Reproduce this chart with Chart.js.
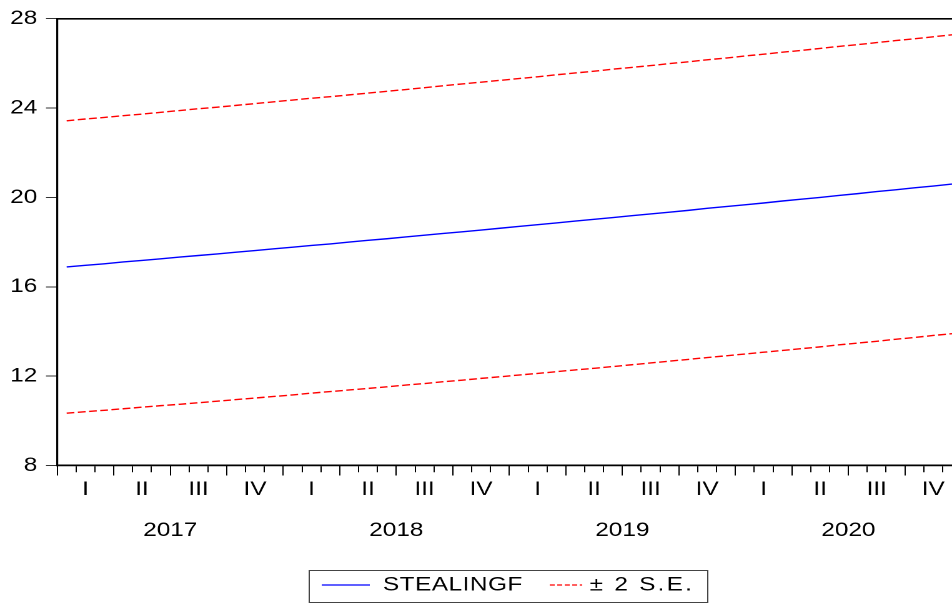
<!DOCTYPE html>
<html>
<head>
<meta charset="utf-8">
<script src="https://cdn.jsdelivr.net/npm/chart.js@4"></script>
<style>
  html, body { margin: 0; padding: 0; background: #fff; overflow: hidden; }
  #wrap { width: 952px; height: 603px; overflow: hidden; position: relative; }
  /* the plot is laid out on a narrower canvas and widened horizontally */
  #c { position: absolute; left: 0; top: 0; transform-origin: 0 0; transform: scaleX(1.24934); }
</style>
</head>
<body>
<div id="wrap"><canvas id="c" width="762" height="603"></canvas></div>
<script>
// Monthly forecast 2017M01 - 2020M12
const years = ['2017', '2018', '2019', '2020'];
const quarterLabels = ['I', 'II', 'III', 'IV'];
const yTicks = [8, 12, 16, 20, 24, 28];

const stealingf = [
  16.89, 16.96, 17.03, 17.11, 17.18, 17.25, 17.33, 17.40, 17.47, 17.55, 17.62, 17.70,
  17.77, 17.85, 17.92, 18.00, 18.08, 18.15, 18.23, 18.31, 18.39, 18.46, 18.54, 18.62,
  18.70, 18.78, 18.86, 18.94, 19.02, 19.10, 19.18, 19.26, 19.34, 19.42, 19.51, 19.59,
  19.67, 19.75, 19.84, 19.92, 20.00, 20.09, 20.17, 20.26, 20.34, 20.43, 20.51, 20.60
];
const upperSE = [
  23.43, 23.51, 23.58, 23.66, 23.73, 23.81, 23.89, 23.97, 24.04, 24.12, 24.20, 24.28,
  24.36, 24.44, 24.51, 24.59, 24.67, 24.75, 24.83, 24.91, 25.00, 25.08, 25.16, 25.24,
  25.32, 25.40, 25.49, 25.57, 25.65, 25.74, 25.82, 25.90, 25.99, 26.07, 26.16, 26.24,
  26.33, 26.41, 26.50, 26.58, 26.67, 26.76, 26.84, 26.93, 27.02, 27.10, 27.19, 27.28
];
const lowerSE = [
  10.34, 10.41, 10.47, 10.54, 10.61, 10.68, 10.74, 10.81, 10.88, 10.95, 11.02, 11.09,
  11.16, 11.24, 11.31, 11.38, 11.45, 11.52, 11.60, 11.67, 11.75, 11.82, 11.90, 11.97,
  12.05, 12.12, 12.20, 12.28, 12.35, 12.43, 12.51, 12.59, 12.67, 12.75, 12.83, 12.91,
  12.99, 13.07, 13.15, 13.23, 13.31, 13.40, 13.48, 13.56, 13.65, 13.73, 13.82, 13.90
];

const monthCount = stealingf.length;
const FONT = "'Liberation Sans', Arial, sans-serif";
const tickFont = { family: FONT, size: 19.5 };

// each month is plotted at the middle of its interval
const toPoints = arr => arr.map((v, i) => ({ x: i + 0.5, y: v }));

const xRange = { type: 'linear', min: 0, max: monthCount - 0.5, position: { y: 8 } };

// framed legend under the plot
const legendBox = {
  id: 'legendBox',
  afterDraw(chart) {
    const ctx = chart.ctx;
    const sets = chart.data.datasets;
    const rowY = 585;
    ctx.save();
    ctx.strokeStyle = '#444';
    ctx.lineWidth = 1;
    ctx.setLineDash([]);
    ctx.strokeRect(247.5, 570.5, 319, 32);
    const items = [
      { ds: sets[0], x0: 257.5, x1: 296, tx: 306.5, dash: [], spacing: '0.4px' },
      { ds: sets[1], x0: 440, x1: 466, tx: 472, dash: [4, 2], spacing: '1.8px' }
    ];
    ctx.font = '19.5px ' + FONT;
    ctx.fillStyle = '#000';
    ctx.textBaseline = 'middle';
    ctx.textAlign = 'left';
    for (const it of items) {
      ctx.beginPath();
      ctx.setLineDash(it.dash);
      ctx.strokeStyle = it.ds.borderColor;
      ctx.lineWidth = 1.3;
      ctx.moveTo(it.x0, rowY);
      ctx.lineTo(it.x1, rowY);
      ctx.stroke();
      ctx.setLineDash([]);
      ctx.letterSpacing = it.spacing;
      ctx.fillText(it.ds.label, it.tx, rowY);
    }
    ctx.letterSpacing = '0px';
    ctx.restore();
  }
};

new Chart(document.getElementById('c'), {
  type: 'line',
  data: {
    datasets: [
      {
        label: 'STEALINGF',
        data: toPoints(stealingf),
        borderColor: '#0000ff',
        borderWidth: 1.4,
        pointRadius: 0,
        tension: 0,
        xAxisID: 'x', yAxisID: 'y'
      },
      {
        label: '\u00b1 2 S.E.',
        data: toPoints(upperSE),
        borderColor: '#ff0000',
        borderWidth: 1.4,
        borderDash: [6.2, 2.8],
        pointRadius: 0,
        tension: 0,
        xAxisID: 'x', yAxisID: 'y'
      },
      {
        label: '\u00b1 2 S.E.',
        data: toPoints(lowerSE),
        borderColor: '#ff0000',
        borderWidth: 1.4,
        borderDash: [6.2, 2.8],
        pointRadius: 0,
        tension: 0,
        xAxisID: 'x', yAxisID: 'y'
      }
    ]
  },
  options: {
    responsive: false,
    animation: false,
    devicePixelRatio: 2,
    layout: { padding: { top: 16.5, bottom: 137.5, left: 0, right: 0 } },
    plugins: { legend: { display: false }, tooltip: { enabled: false } },
    scales: {
      y: {
        type: 'linear', min: 8, max: 28, position: 'left',
        afterBuildTicks: s => { s.ticks = yTicks.map(v => ({ value: v })); },
        afterFit: s => { s.width = 45.82; },
        ticks: { font: tickFont, color: '#000', padding: 7 },
        grid: { drawOnChartArea: false, tickLength: 9, tickColor: '#333', tickWidth: 1 },
        border: { display: true, color: '#000', width: 1.6 }
      },
      // month ticks and the bottom axis line
      x: {
        ...xRange,
        afterBuildTicks: s => { s.ticks = stealingf.map((v, i) => ({ value: i })); },
        ticks: { autoSkip: false, maxRotation: 0, font: tickFont, callback: () => '' },
        grid: { drawOnChartArea: false, tickLength: 6, tickColor: '#000', tickWidth: 1 },
        border: { display: true, color: '#000', width: 1.8 }
      },
      // quarter labels, long ticks at quarter boundaries
      xq: {
        ...xRange,
        afterBuildTicks: s => {
          s.ticks = years.flatMap((yr, yi) => quarterLabels.map((q, qi) => ({ value: yi * 12 + qi * 3 + 1.5 })));
        },
        ticks: {
          autoSkip: false, maxRotation: 0, font: tickFont, color: '#000', padding: 2.5,
          callback: (v, i) => quarterLabels[i % quarterLabels.length]
        },
        grid: { offset: true, drawOnChartArea: false, tickLength: 10, tickColor: '#000', tickWidth: 1 },
        border: { display: false }
      },
      // year labels
      xy: {
        ...xRange,
        afterBuildTicks: s => { s.ticks = years.map((yr, yi) => ({ value: yi * 12 + 6 })); },
        ticks: {
          autoSkip: false, maxRotation: 0, font: tickFont, color: '#000', padding: 53.5,
          callback: (v, i) => years[i]
        },
        grid: { display: false, drawTicks: false },
        border: { display: false }
      },
      // top frame line
      xt: {
        type: 'linear', min: 0, max: monthCount - 0.5, position: { y: 28 },
        ticks: { display: false },
        grid: { drawOnChartArea: false, drawTicks: false },
        border: { display: true, color: '#000', width: 1.6 }
      }
    }
  },
  plugins: [legendBox]
});
</script>
</body>
</html>
